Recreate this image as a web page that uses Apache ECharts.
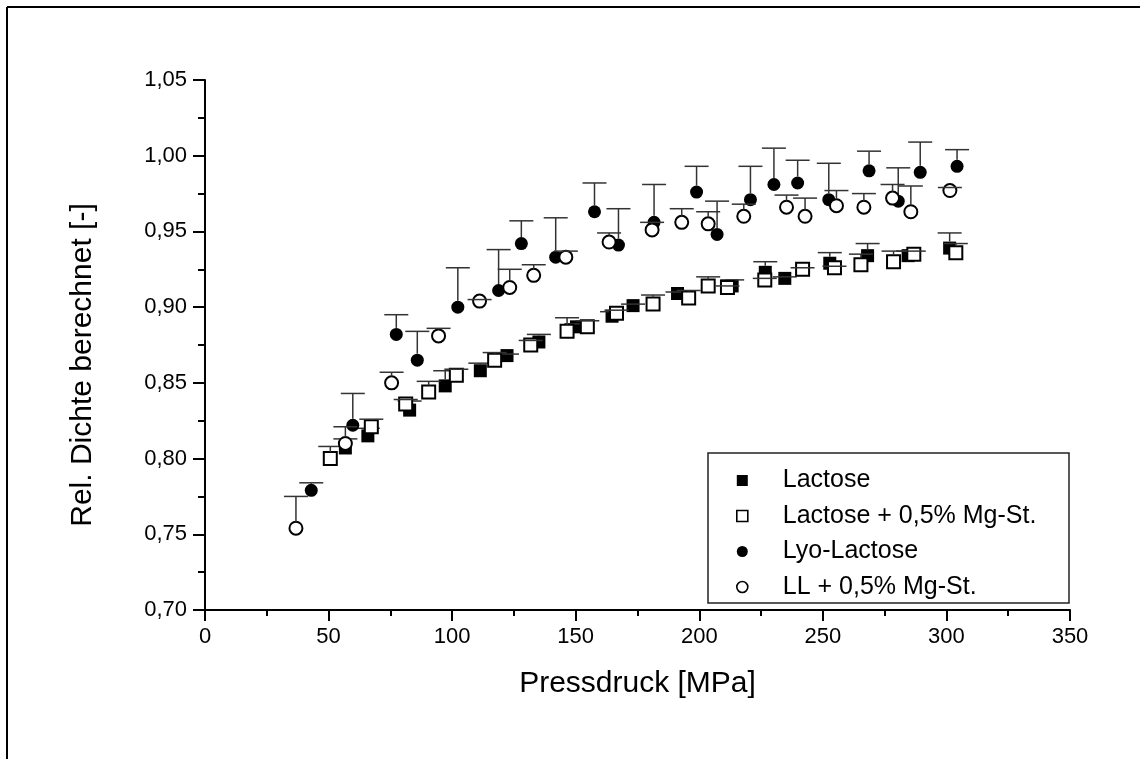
<!DOCTYPE html>
<html>
<head>
<meta charset="utf-8">
<script src="https://cdn.jsdelivr.net/npm/echarts@6/dist/echarts.min.js"></script>
<style>
html,body{margin:0;padding:0;background:#fff;}
#chart{width:1140px;height:759px;}
</style>
</head>
<body>
<div id="chart"></div>
<script>
// [Pressdruck MPa, rel. Dichte, upper error]
var lactose = [
  [56.8,0.807,0.813],[65.9,0.815,0.820],[82.8,0.832,0.838],[97.2,0.848,0.858],
  [111.4,0.858,0.863],[122.2,0.868,0.869],[135.1,0.877,0.882],[150.3,0.887,0.889],
  [164.7,0.894,0.897],[173.2,0.901,0.902],[191.2,0.909,0.910],[213.3,0.914,0.918],
  [226.7,0.923,0.930],[234.6,0.919,0.920],[252.8,0.929,0.936],[268.1,0.934,0.942],
  [284.5,0.934,0.937],[301.3,0.939,0.949]
];
var lactoseMg = [
  [50.7,0.800,0.808],[67.3,0.821,0.826],[81.2,0.836,0.839],[90.5,0.844,0.851],
  [101.7,0.855,0.859],[117.2,0.865,0.870],[131.8,0.875,0.878],[146.5,0.884,0.893],
  [154.7,0.887,0.891],[166.5,0.896,0.898],[181.3,0.902,0.908],[195.7,0.906,0.911],
  [203.6,0.914,0.920],[211.4,0.913,0.914],[226.5,0.918,0.919],[241.8,0.925,0.926],
  [254.7,0.926,0.927],[265.4,0.928,0.935],[278.6,0.930,0.937],[286.8,0.935,0.937],
  [303.8,0.936,0.942]
];
var lyoLactose = [
  [43.0,0.779,0.784],[59.8,0.822,0.843],[77.4,0.882,0.895],[85.9,0.865,0.884],
  [102.3,0.900,0.926],[118.8,0.911,0.938],[128.0,0.942,0.957],[141.9,0.933,0.959],
  [157.6,0.963,0.982],[167.3,0.941,0.965],[181.7,0.956,0.981],[198.9,0.976,0.993],
  [207.2,0.948,0.970],[220.7,0.971,0.993],[230.2,0.981,1.005],[239.8,0.982,0.997],
  [252.4,0.971,0.995],[268.7,0.990,1.003],[280.5,0.970,0.992],[289.4,0.989,1.009],
  [304.3,0.993,1.004]
];
var llMg = [
  [36.8,0.754,0.775],[56.8,0.810,0.821],[75.5,0.850,0.857],[94.5,0.881,0.886],
  [111.1,0.904,0.905],[123.3,0.913,0.925],[133.0,0.921,0.928],[146.0,0.933,0.937],
  [163.5,0.943,0.949],[180.9,0.951,0.956],[192.9,0.956,0.965],[203.6,0.955,0.963],
  [218.0,0.960,0.968],[235.3,0.966,0.974],[242.8,0.960,0.972],[255.5,0.967,0.977],
  [266.6,0.966,0.975],[278.2,0.972,0.981],[285.6,0.963,0.980],[301.4,0.977,0.979]
];
var seriesNames = ['Lactose','Lactose + 0,5% Mg-St.','Lyo-Lactose','LL + 0,5% Mg-St.'];
var xTitle = 'Pressdruck [MPa]';
var yTitle = 'Rel. Dichte berechnet [-]';

var FONT = '"Liberation Sans", Arial, Helvetica, sans-serif';
var chart = echarts.init(document.getElementById('chart'));

var groups = [
  {name: seriesNames[0], data: lactose, symbol: 'rect', fill: '#000'},
  {name: seriesNames[1], data: lactoseMg, symbol: 'rect', fill: '#fff'},
  {name: seriesNames[2], data: lyoLactose, symbol: 'circle', fill: '#000'},
  {name: seriesNames[3], data: llMg, symbol: 'circle', fill: '#fff'}
];

var series = [];
groups.forEach(function (g, i) {
  series.push({
    name: g.name,
    type: 'scatter',
    symbol: g.symbol,
    symbolSize: 13,
    data: g.data.map(function (d) { return [d[0], d[1]]; }),
    itemStyle: {color: g.fill, borderColor: '#000', borderWidth: g.fill === '#fff' ? 2 : 0, opacity: 1},
    emphasis: {disabled: true},
    z: 2 + i * 2
  });
  series.push({
    name: g.name,
    type: 'custom',
    data: g.data,
    z: 3 + i * 2,
    silent: true,
    renderItem: function (params, api) {
      var c = api.coord([api.value(0), api.value(1)]);
      var t = api.coord([api.value(0), api.value(2)]);
      var children = [];
      var edge = c[1] - 6.5;
      if (t[1] < edge) {
        children.push({type: 'line', shape: {x1: c[0], y1: edge, x2: c[0], y2: t[1]},
          style: {stroke: '#333', lineWidth: 1.5}});
      }
      children.push({type: 'line', shape: {x1: c[0] - 12, y1: t[1], x2: c[0] + 12, y2: t[1]},
        style: {stroke: '#333', lineWidth: 1.5}});
      return {type: 'group', children: children};
    }
  });
});

var option = {
  backgroundColor: '#fff',
  animation: false,
  textStyle: {fontFamily: FONT},
  grid: {left: 205, right: 70, top: 80, bottom: 149, containLabel: false},
  xAxis: {
    type: 'value', min: 0, max: 350, interval: 50,
    axisLine: {show: true, lineStyle: {color: '#000', width: 2}},
    axisTick: {show: true, inside: false, length: 11, lineStyle: {color: '#000', width: 2}},
    minorTick: {show: true, splitNumber: 2, length: 6, lineStyle: {color: '#000', width: 2}},
    splitLine: {show: false},
    axisLabel: {color: '#000', fontSize: 22, margin: 16, fontFamily: FONT}
  },
  yAxis: {
    type: 'value', min: 0.70, max: 1.05, interval: 0.05,
    axisLine: {show: true, lineStyle: {color: '#000', width: 2}},
    axisTick: {show: true, inside: false, length: 12, lineStyle: {color: '#000', width: 2}},
    minorTick: {show: true, splitNumber: 2, length: 7, lineStyle: {color: '#000', width: 2}},
    splitLine: {show: false},
    axisLabel: {color: '#000', fontSize: 22, margin: 18, fontFamily: FONT,
      formatter: function (v) { return v.toFixed(2).replace('.', ','); }}
  },
  legend: {
    orient: 'vertical',
    left: 708, top: 453,
    padding: [15, 20, 7, 28],
    itemWidth: 11, itemHeight: 11,
    itemGap: 10.5,
    selectedMode: false,
    textStyle: {fontSize: 25, color: '#000', fontFamily: FONT, padding: [0, 0, 0, 30], lineHeight: 24},
    data: [
      {name: seriesNames[0], icon: 'rect', itemStyle: {color: '#000', borderWidth: 0}},
      {name: seriesNames[1], icon: 'rect', itemStyle: {color: '#fff', borderColor: '#000', borderWidth: 1.6}},
      {name: seriesNames[2], icon: 'circle', itemStyle: {color: '#000', borderWidth: 0}},
      {name: seriesNames[3], icon: 'circle', itemStyle: {color: '#fff', borderColor: '#000', borderWidth: 1.6}}
    ]
  },
  graphic: [
    {type: 'line', shape: {x1: 7, y1: 7, x2: 1140, y2: 7}, style: {stroke: '#000', lineWidth: 2}, z: 10},
    {type: 'line', shape: {x1: 7, y1: 7, x2: 7, y2: 759}, style: {stroke: '#000', lineWidth: 2}, z: 10},
    {type: 'rect', shape: {x: 708, y: 453, width: 361, height: 150}, style: {fill: 'none', stroke: '#222', lineWidth: 1.5}, z: 10},
    {type: 'text', x: 637.5, y: 684, style: {text: xTitle, font: '30px ' + FONT, fill: '#000',
      align: 'center', verticalAlign: 'middle', textAlign: 'center', textVerticalAlign: 'middle'}},
    {type: 'text', x: 83, y: 365, rotation: Math.PI / 2, style: {text: yTitle, font: '30px ' + FONT, fill: '#000',
      align: 'center', verticalAlign: 'middle', textAlign: 'center', textVerticalAlign: 'middle'}}
  ],
  series: series
};
chart.setOption(option);
</script>
</body>
</html>
